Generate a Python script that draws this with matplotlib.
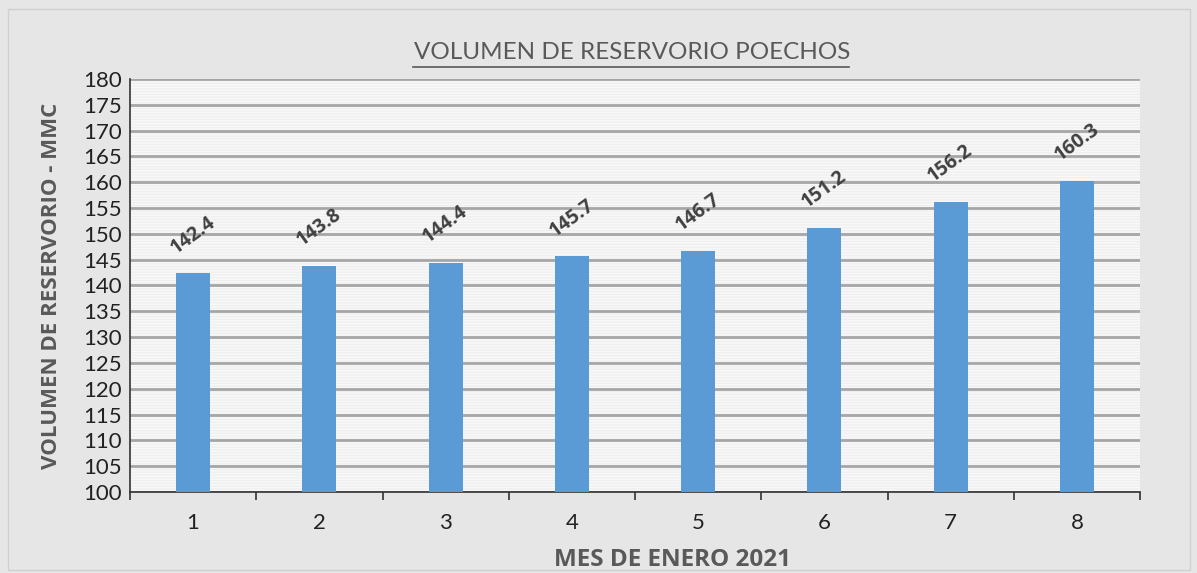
import matplotlib.pyplot as plt
from matplotlib.patches import Rectangle
from matplotlib.lines import Line2D

# days of January 2021 and reservoir volume (MMC)
days = [1, 2, 3, 4, 5, 6, 7, 8]
volume = [142.4, 143.8, 144.4, 145.7, 146.7, 151.2, 156.2, 160.3]

plt.rcParams['font.family'] = ['Lato', 'DejaVu Sans']
plt.rcParams['hatch.linewidth'] = 1.2

fig = plt.figure(figsize=(11.97, 5.73), dpi=100, facecolor='#e6e6e6')
fig.patches.append(Rectangle((0.007, 0.005), 0.987, 0.98, transform=fig.transFigure,
                             fill=False, edgecolor='#d0d0d0', linewidth=1))
ax = fig.add_axes([0.1086, 0.1414, 0.8438, 0.7208])
ax.set_facecolor('#eeeeee')

# striped background
ax.add_patch(Rectangle((0, 0), 1, 1, transform=ax.transAxes, facecolor='none',
                       edgecolor='#f8f8f8', hatch='------', linewidth=0, zorder=0.5))

x = list(range(len(days)))
ax.bar(x, volume, width=0.27, color='#5b9bd5', zorder=3)

for xi, v in zip(x, volume):
    ax.text(xi, v + 3.0, f'{v}', rotation=36, ha='center', va='bottom',
            fontsize=14, fontweight='bold', color='#404040', zorder=4,
            family=['Open Sans', 'DejaVu Sans'])

ax.set_ylim(100, 180)
ax.set_xlim(-0.5, len(days) - 0.5)
ax.set_yticks(range(100, 181, 5))
ax.yaxis.grid(True, color='#a6a6a6', linewidth=2, zorder=1)
ax.set_axisbelow(True)

ax.set_xticks([i + 0.5 for i in range(-1, len(days))], minor=False)
ax.set_xticklabels([])
ax.set_xticks(x, minor=True)
ax.set_xticklabels([str(d) for d in days], minor=True)
ax.tick_params(axis='x', which='major', length=6, width=1.2, direction='out', color='#333333')
ax.tick_params(axis='x', which='minor', length=0, pad=15, labelsize=16, labelcolor='#222222')
ax.tick_params(axis='y', length=0, labelsize=16, labelcolor='#222222', pad=6)

for s in ['top', 'right']:
    ax.spines[s].set_visible(False)
ax.spines['left'].set_color('#333333')
ax.spines['bottom'].set_color('#333333')
ax.spines['left'].set_linewidth(1.2)
ax.spines['bottom'].set_linewidth(1.2)

ax.set_ylabel('VOLUMEN DE RESERVORIO - MMC', fontsize=16, fontweight='bold',
              color='#595959', labelpad=15, family=['Open Sans', 'DejaVu Sans'])
ax.set_xlabel('MES DE ENERO 2021', fontsize=17.5, fontweight='bold', color='#595959',
              labelpad=12, family=['Open Sans', 'DejaVu Sans'])
ax.xaxis.set_label_coords(0.537, -0.135)

fig.text(0.528, 0.908, 'VOLUMEN DE RESERVORIO POECHOS', ha='center', va='center',
         fontsize=17.5, color='#595959')
fig.lines.append(Line2D([0.345, 0.709], [0.883, 0.883], transform=fig.transFigure,
                        color='#595959', linewidth=1.2))

fig.savefig('out.png', dpi=100, facecolor=fig.get_facecolor())
